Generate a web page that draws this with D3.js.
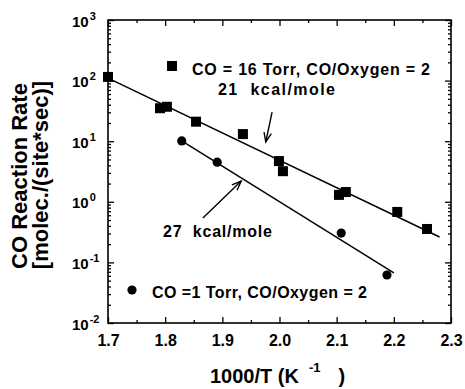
<!DOCTYPE html>
<html>
<head>
<meta charset="utf-8">
<script src="https://cdn.jsdelivr.net/npm/d3@7"></script>
<style>
  html, body { margin: 0; padding: 0; background: #fff; }
  svg { display: block; font-family: "Liberation Sans", Arial, Helvetica, sans-serif; font-weight: bold; }
</style>
</head>
<body>
<div id="chart"></div>
<script>
// CO = 16 Torr (squares)
const sqX = [1.700, 1.791, 1.803, 1.854, 1.936, 1.999, 2.006, 2.104, 2.116, 2.206, 2.258];
const sqY = [115, 35, 37, 21, 13.1, 4.7, 3.2, 1.3, 1.45, 0.68, 0.356];
// CO = 1 Torr (circles)
const ciX = [1.829, 1.891, 2.108, 2.188];
const ciY = [10.1, 4.5, 0.305, 0.062];
// Arrhenius fit lines (end points)
const sqFitX = [1.70, 2.28];
const sqFitY = [110, 0.262];
const ciFitX = [1.829, 2.20];
const ciFitY = [10.1, 0.067];
// tick values
const xMajor = [1.7, 1.8, 1.9, 2.0, 2.1, 2.2, 2.3];
const xMinor = [1.75, 1.85, 1.95, 2.05, 2.15, 2.25];
const yExps = [-2, -1, 0, 1, 2, 3];
// annotation arrows [x0, y0, x1, y1] (head at x1, y1)
const arrow21 = [1.987, 30.3, 1.976, 9.7];
const arrow27 = [1.866, 0.54, 1.933, 2.2];

const width = 465;
const height = 389;
const margin = { top: 20, right: 14, bottom: 66, left: 108 };

const svg = d3.select('#chart')
  .append('svg')
  .attr('width', width)
  .attr('height', height);

const x = d3.scaleLinear()
  .domain([1.7, 2.3])
  .range([margin.left, width - margin.right]);
const y = d3.scaleLog()
  .domain([1e-2, 1e3])
  .range([height - margin.bottom, margin.top]);

const yMinor = [];
yExps.slice(0, -1).forEach(e => {
  for (let k = 2; k <= 9; k++) yMinor.push(k * Math.pow(10, e));
});

function styleAxis(g) {
  g.selectAll('path').remove();
  g.selectAll('line').attr('stroke', '#000').attr('stroke-width', 1.3);
}

// bottom axis
svg.append('g')
  .attr('transform', `translate(0, ${y.range()[0]})`)
  .call(d3.axisBottom(x).tickValues(xMajor).tickSizeInner(-6).tickSizeOuter(0)
    .tickPadding(12).tickFormat(d3.format('.1f')))
  .call(styleAxis)
  .selectAll('text')
  .attr('font-size', 16)
  .attr('font-weight', 'bold')
  .attr('font-family', 'inherit')
  .attr('fill', '#000');
svg.append('g')
  .attr('transform', `translate(0, ${y.range()[0]})`)
  .call(d3.axisBottom(x).tickValues(xMinor).tickSizeInner(-3).tickSizeOuter(0).tickFormat(''))
  .call(styleAxis);

// top axis
svg.append('g')
  .attr('transform', `translate(0, ${y.range()[1]})`)
  .call(d3.axisTop(x).tickValues(xMajor).tickSizeInner(-6).tickSizeOuter(0).tickFormat(''))
  .call(styleAxis);
svg.append('g')
  .attr('transform', `translate(0, ${y.range()[1]})`)
  .call(d3.axisTop(x).tickValues(xMinor).tickSizeInner(-3).tickSizeOuter(0).tickFormat(''))
  .call(styleAxis);

// left axis
const yAxisG = svg.append('g')
  .attr('transform', `translate(${x.range()[0]}, 0)`)
  .call(d3.axisLeft(y).tickValues(yExps.map(e => Math.pow(10, e))).tickSizeInner(-6).tickSizeOuter(0).tickFormat(''))
  .call(styleAxis);
yAxisG.selectAll('.tick')
  .append('text')
  .attr('x', -36)
  .attr('y', 6)
  .attr('text-anchor', 'start')
  .attr('fill', '#000')
  .attr('font-size', 15)
  .attr('font-weight', 'bold')
  .attr('font-family', 'inherit')
  .each(function(d) {
    const t = d3.select(this);
    t.append('tspan').text('10');
    t.append('tspan').attr('dx', 1).attr('dy', -7).attr('font-size', 11)
      .text(String(Math.round(Math.log10(d))));
  });
svg.append('g')
  .attr('transform', `translate(${x.range()[0]}, 0)`)
  .call(d3.axisLeft(y).tickValues(yMinor).tickSizeInner(-3).tickSizeOuter(0).tickFormat(''))
  .call(styleAxis);

// right axis
svg.append('g')
  .attr('transform', `translate(${x.range()[1]}, 0)`)
  .call(d3.axisRight(y).tickValues(yExps.map(e => Math.pow(10, e))).tickSizeInner(-6).tickSizeOuter(0).tickFormat(''))
  .call(styleAxis);
svg.append('g')
  .attr('transform', `translate(${x.range()[1]}, 0)`)
  .call(d3.axisRight(y).tickValues(yMinor).tickSizeInner(-3).tickSizeOuter(0).tickFormat(''))
  .call(styleAxis);

// frame
svg.append('rect')
  .attr('x', x.range()[0])
  .attr('y', y.range()[1])
  .attr('width', x.range()[1] - x.range()[0])
  .attr('height', y.range()[0] - y.range()[1])
  .attr('fill', 'none')
  .attr('stroke', '#000')
  .attr('stroke-width', 1.6);

// fit lines
const line = d3.line().x(d => x(d[0])).y(d => y(d[1]));
[[sqFitX, sqFitY], [ciFitX, ciFitY]].forEach(([fx, fy]) => {
  svg.append('path')
    .datum(d3.zip(fx, fy))
    .attr('d', line)
    .attr('fill', 'none')
    .attr('stroke', '#000')
    .attr('stroke-width', 1.5);
});

// data points
const sq = 10;
svg.append('g')
  .selectAll('rect')
  .data(d3.zip(sqX, sqY))
  .join('rect')
  .attr('x', d => x(d[0]) - sq / 2)
  .attr('y', d => y(d[1]) - sq / 2)
  .attr('width', sq)
  .attr('height', sq)
  .attr('fill', '#000');
svg.append('g')
  .selectAll('circle')
  .data(d3.zip(ciX, ciY))
  .join('circle')
  .attr('cx', d => x(d[0]))
  .attr('cy', d => y(d[1]))
  .attr('r', 4.6)
  .attr('fill', '#000');

// arrows
function drawArrow(a) {
  const x0 = x(a[0]), y0 = y(a[1]), x1 = x(a[2]), y1 = y(a[3]);
  const ang = Math.atan2(y1 - y0, x1 - x0);
  const len = 10, spread = 0.38;
  const g = svg.append('g').attr('stroke', '#000').attr('stroke-width', 1.4).attr('fill', 'none');
  g.append('line').attr('x1', x0).attr('y1', y0).attr('x2', x1).attr('y2', y1);
  g.append('path').attr('d',
    `M${x1 - len * Math.cos(ang - spread)},${y1 - len * Math.sin(ang - spread)}` +
    `L${x1},${y1}` +
    `L${x1 - len * Math.cos(ang + spread)},${y1 - len * Math.sin(ang + spread)}`);
}
drawArrow(arrow21);
drawArrow(arrow27);

// legend and annotations
svg.append('rect')
  .attr('x', 167).attr('y', 61).attr('width', sq).attr('height', sq).attr('fill', '#000');
svg.append('text')
  .attr('x', 192).attr('y', 75)
  .attr('font-size', 16)
  .attr('textLength', 238).attr('lengthAdjust', 'spacing')
  .text('CO = 16 Torr, CO/Oxygen = 2');
svg.append('circle')
  .attr('cx', 132).attr('cy', 290).attr('r', 4.6).attr('fill', '#000');
svg.append('text')
  .attr('x', 152).attr('y', 298)
  .attr('font-size', 16)
  .attr('textLength', 215).attr('lengthAdjust', 'spacing')
  .text('CO =1 Torr, CO/Oxygen = 2');
svg.append('text')
  .attr('x', 218).attr('y', 95)
  .attr('font-size', 16)
  .attr('textLength', 117).attr('lengthAdjust', 'spacing')
  .attr('xml:space', 'preserve')
  .text('21  kcal/mole');
svg.append('text')
  .attr('x', 163).attr('y', 237)
  .attr('font-size', 16)
  .attr('textLength', 109).attr('lengthAdjust', 'spacing')
  .attr('xml:space', 'preserve')
  .text('27  kcal/mole');

// axis titles
const xt = svg.append('text')
  .attr('x', 210).attr('y', 383)
  .attr('font-size', 20);
xt.append('tspan').text('1000/T (K');
xt.append('tspan').attr('dx', 10).attr('dy', -11).attr('font-size', 13).text('-1');
xt.append('tspan').attr('dx', 18).attr('dy', 11).text(')');

svg.append('text')
  .attr('transform', 'translate(27, 176) rotate(-90)')
  .attr('text-anchor', 'middle')
  .attr('font-size', 22)
  .attr('xml:space', 'preserve')
  .text('CO Reaction Rate');
svg.append('text')
  .attr('transform', 'translate(48, 175) rotate(-90)')
  .attr('text-anchor', 'middle')
  .attr('font-size', 22)
  .text('[molec./(site*sec)]');
</script>
</body>
</html>
